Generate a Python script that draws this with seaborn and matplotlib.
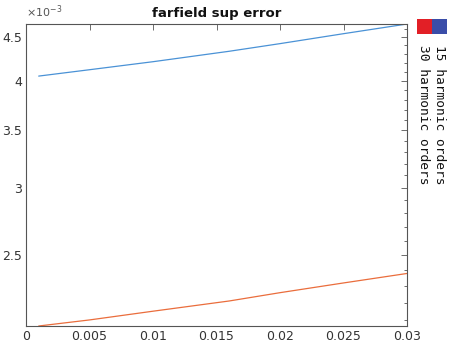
import numpy as np
import pandas as pd
import matplotlib
matplotlib.use("Agg")
import matplotlib.pyplot as plt
from matplotlib.patches import Rectangle
from matplotlib.ticker import FixedLocator, FuncFormatter
import seaborn as sns

# farfield sup error vs. parameter, for two truncation orders
x_vals = [0.001, 0.005, 0.010, 0.016, 0.020, 0.025, 0.030]
err_15 = [4.05e-3, 4.12e-3, 4.21e-3, 4.33e-3, 4.42e-3, 4.54e-3, 4.66e-3]
err_30 = [2.066e-3, 2.10e-3, 2.15e-3, 2.21e-3, 2.26e-3, 2.32e-3, 2.38e-3]
series_names = ["15 harmonic orders", "30 harmonic orders"]
line_colors = ["#4a92d6", "#ea6d3c"]
patch_colors = ["#3a4da8", "#e21f26"]

x_ticks = [0, 0.005, 0.01, 0.015, 0.02, 0.025, 0.03]
y_major = [2.5e-3, 3.0e-3, 3.5e-3, 4.0e-3, 4.5e-3]
y_minor = [v * 1e-4 for v in range(21, 47) if v % 5 != 0]

df = pd.DataFrame({
    "x": x_vals * 2,
    "err": err_15 + err_30,
    "series": [series_names[0]] * len(x_vals) + [series_names[1]] * len(x_vals),
})

sns.set_theme(style="white")
plt.rcParams["font.family"] = ["DejaVu Sans"]

fig = plt.figure(figsize=(4.59, 3.48), dpi=100)
ax = fig.add_axes([26 / 459, 22 / 348, (407 - 26) / 459, (326 - 24) / 348])

sns.lineplot(data=df, x="x", y="err", hue="series", palette=line_colors,
             linewidth=0.9, ax=ax, legend=False)

ax.set_yscale("log")
ax.set_xlim(0, 0.03)
ax.set_ylim(min(err_30), max(err_15))
ax.set_xlabel("")
ax.set_ylabel("")

axis_color = "#555555"
ax.xaxis.set_major_locator(FixedLocator(x_ticks))
ax.xaxis.set_major_formatter(FuncFormatter(lambda v, p: "0" if v == 0 else f"{v:g}"))
ax.yaxis.set_major_locator(FixedLocator(y_major))
ax.yaxis.set_minor_locator(FixedLocator(y_minor))
ax.yaxis.set_major_formatter(FuncFormatter(lambda v, p: f"{v * 1e3:g}"))
ax.yaxis.set_minor_formatter(FuncFormatter(lambda v, p: ""))

ax.tick_params(axis="both", which="both", direction="in", top=True, right=True,
               colors=axis_color, labelcolor="#333333", labelsize=9, width=0.6)
ax.tick_params(axis="both", which="major", length=4, pad=3)
ax.tick_params(axis="y", which="minor", length=2.5)
for sp in ax.spines.values():
    sp.set_color(axis_color)
    sp.set_linewidth(0.8)

ax.text(0.0, 1.012, r"$\times10^{-3}$", transform=ax.transAxes, fontsize=8,
        color="#555555", ha="left", va="bottom")
ax.set_title("farfield sup error", fontsize=9.5, fontweight="bold", pad=5, color="#111111")

# Legend drawn vertically beside the axes
W, H = 459, 348
sz = 15
for i, (name, col) in enumerate(zip(series_names, patch_colors)):
    cx = 439 - i * 15
    fig.patches.append(Rectangle(((cx - 7.5) / W, 1 - 34 / H), sz / W, sz / H,
                                 transform=fig.transFigure, facecolor=col,
                                 edgecolor="none"))
    fig.text(cx / W, 1 - 45 / H, name, rotation=-90, ha="center", va="top",
             fontsize=9.3, family="DejaVu Sans Mono", color="#111111")

fig.savefig("out.png", dpi=100, facecolor="white")
